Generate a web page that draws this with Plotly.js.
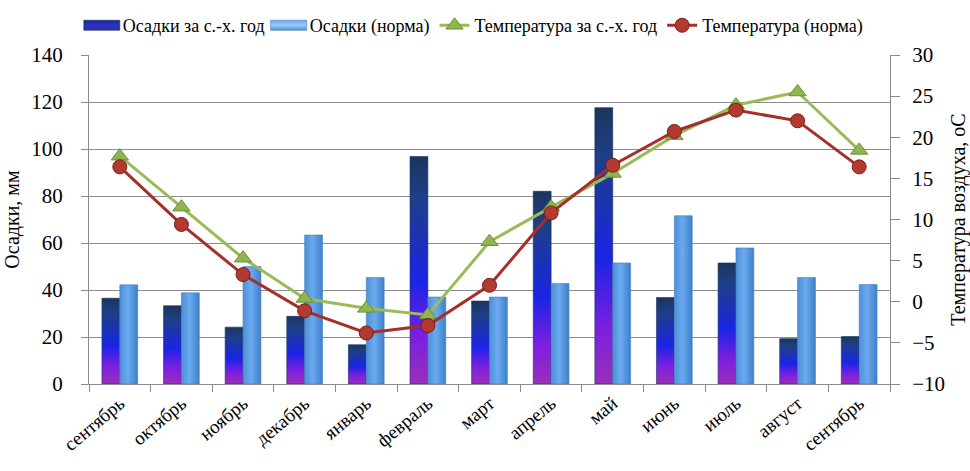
<!DOCTYPE html>
<html>
<head>
<meta charset="utf-8">
<script src="https://cdn.plot.ly/plotly-3.0.1.min.js"></script>
<style>
html,body{margin:0;padding:0;background:#fff;}
#chart{width:970px;height:471px;}
</style>
</head>
<body>
<div id="chart"></div>
<script>
const months = ["сентябрь","октябрь","ноябрь","декабрь","январь","февраль","март","апрель","май","июнь","июль","август","сентябрь"];
const precipYear = [36.5, 33.3, 24.2, 28.8, 16.7, 96.8, 35.3, 82.0, 117.6, 36.8, 51.5, 19.3, 20.2];
const precipNorm = [42.2, 38.8, 50.0, 63.4, 45.3, 37.0, 37.0, 42.8, 51.5, 71.6, 57.9, 45.3, 42.3];
const tempYear = [17.7, 11.5, 5.3, 0.4, -0.8, -1.6, 7.3, 11.5, 15.6, 20.2, 23.9, 25.5, 18.4];
const tempNorm = [16.4, 9.4, 3.3, -1.1, -3.8, -2.9, 2.0, 10.8, 16.6, 20.7, 23.3, 22.0, 16.4];
const seriesNames = ["Осадки за с.-х. год","Осадки (норма)","Температура за с.-х. год","Температура (норма)"];

const xIdx = months.map((m,i)=>i);
const serif = "Liberation Serif, Times New Roman, serif";

const traces = [
  {type:'bar', x:xIdx, y:precipYear, name:seriesNames[0], marker:{color:'#1f3fa8', line:{color:'#16305a', width:0.6}}, hoverinfo:'skip'},
  {type:'bar', x:xIdx, y:precipNorm, name:seriesNames[1], marker:{color:'#5a9be0', line:{color:'#3f7fc4', width:0.6}}, hoverinfo:'skip'},
  {type:'scatter', mode:'lines+markers', x:xIdx, y:tempYear, yaxis:'y2', name:seriesNames[2],
   line:{color:'#9bbb59', width:3}, marker:{symbol:'triangle-up', size:15, color:'#8fb550', line:{color:'#6e8f35', width:1}}, hoverinfo:'skip'},
  {type:'scatter', mode:'lines+markers', x:xIdx, y:tempNorm, yaxis:'y2', name:seriesNames[3],
   line:{color:'#a3302b', width:3}, marker:{symbol:'circle', size:14, color:'#b23a30', line:{color:'#7a1d18', width:1}}, hoverinfo:'skip'}
];

const layout = {
  width:970, height:471,
  margin:{l:89, r:80, t:55, b:87},
  paper_bgcolor:'#fff', plot_bgcolor:'#fff',
  font:{family:serif, size:17, color:'#000'},
  barmode:'group', bargap:0.42, bargroupgap:0,
  showlegend:true,
  legend:{orientation:'h', xref:'container', yref:'container', x:0.49, xanchor:'center', y:0.985, yanchor:'top',
          font:{family:serif, size:18, color:'#000'}, itemwidth:30, tracegroupgap:0, traceorder:'normal'},
  xaxis:{range:[-0.5,12.5], tickvals:xIdx, ticktext:months, tickangle:-40, ticks:'', showgrid:false,
         showline:true, linecolor:'#8a8a8a', linewidth:1, zeroline:false,
         tickfont:{family:serif, size:19, color:'#000'},
         minor:{tick0:-0.5, dtick:1, ticks:'outside', ticklen:7, tickcolor:'#8a8a8a', showgrid:false}},
  yaxis:{range:[0,140], dtick:20, showgrid:true, gridcolor:'#8c8c8c', gridwidth:1, zeroline:false,
         showline:true, linecolor:'#8a8a8a', ticks:'outside', ticklen:7, tickcolor:'#8a8a8a', ticklabelstandoff:14,
         tickfont:{family:serif, size:21, color:'#000'},
         title:{text:'Осадки, мм', font:{family:serif, size:20, color:'#000'}, standoff:6}},
  yaxis2:{range:[-10,30], dtick:5, overlaying:'y', side:'right', showgrid:false, zeroline:false,
          showline:true, linecolor:'#8a8a8a', ticks:'outside', ticklen:9, tickcolor:'#8a8a8a', ticklabelstandoff:8,
          tickfont:{family:serif, size:21, color:'#000'},
          title:{text:'Температура воздуха, оС', font:{family:serif, size:20, color:'#000'}, standoff:6}}
};

Plotly.newPlot('chart', traces, layout, {displayModeBar:false, staticPlot:true}).then(function(gd){
  const svg = gd.querySelector('svg.main-svg');
  const ns = 'http://www.w3.org/2000/svg';
  let defs = svg.querySelector('defs');
  if(!defs){defs = document.createElementNS(ns,'defs'); svg.insertBefore(defs, svg.firstChild);}
  function grad(id, stops, horiz){
    const g = document.createElementNS(ns,'linearGradient');
    g.setAttribute('id', id);
    g.setAttribute('x1','0'); g.setAttribute('y1','0');
    g.setAttribute('x2', horiz?'1':'0'); g.setAttribute('y2', horiz?'0':'1');
    stops.forEach(s=>{const st=document.createElementNS(ns,'stop'); st.setAttribute('offset',s[0]); st.setAttribute('stop-color',s[1]); g.appendChild(st);});
    defs.appendChild(g);
  }
  grad('gDark', [['0%','#1c355f'],['18%','#1d3f86'],['55%','#1a24e6'],['80%','#7d1fe0'],['100%','#9a2fb8']], false);
  grad('gLight', [['0%','#4f8fd6'],['45%','#6aaaf0'],['100%','#3f7fc8']], true);
  grad('gDarkLeg', [['0%','#1a2a8a'],['50%','#2a30d0'],['100%','#3a2a9a']], false);
  grad('gLightLeg', [['0%','#6aaaf0'],['50%','#9ccaf5'],['100%','#4f8fd6']], false);
  const barTraces = gd.querySelectorAll('.barlayer .trace');
  if(barTraces[0]) barTraces[0].querySelectorAll('path').forEach(p=>{p.style.fill='url(#gDark)';});
  if(barTraces[1]) barTraces[1].querySelectorAll('path').forEach(p=>{p.style.fill='url(#gLight)';});
  const legTr = gd.querySelectorAll('.legend .traces');
  [0,1].forEach(k=>{
    if(legTr[k]) legTr[k].querySelectorAll('.legendpoints path').forEach(p=>{
      p.setAttribute('d','M17,5H-19V-5H17Z');
      p.style.fill = k===0 ? 'url(#gDarkLeg)' : 'url(#gLightLeg)';
    });
  });
});
</script>
</body>
</html>
